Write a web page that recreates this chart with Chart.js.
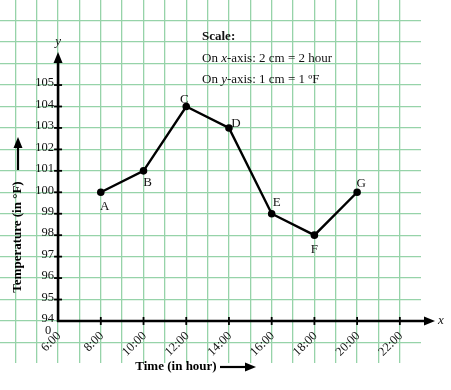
<!DOCTYPE html>
<html>
<head>
<meta charset="utf-8">
<script src="https://cdn.jsdelivr.net/npm/chart.js@4"></script>
<style>
  html, body { margin: 0; padding: 0; background: #fff; }
  #wrap { width: 451px; height: 390px; position: relative; }
</style>
</head>
<body>
<div id="wrap"><canvas id="suhuChart"></canvas></div>
<script>
// data suhu per jam
const hours = [8, 10, 12, 14, 16, 18, 20];
const temps = [100, 101, 104, 103, 99, 98, 100];
const pointNames = ['A', 'B', 'C', 'D', 'E', 'F', 'G'];

// label sumbu
const xTickHours = [6, 8, 10, 12, 14, 16, 18, 20, 22];
const xTickLabels = ['6:00', '8:00', '10:00', '12:00', '14:00', '16:00', '18:00', '20:00', '22:00'];
const yTickValues = [94, 95, 96, 97, 98, 99, 100, 101, 102, 103, 104, 105];

// garis kertas grafik
const gridHours = [4, 5, 6, 7, 8, 9, 10, 11, 12, 13, 14, 15, 16, 17, 18, 19, 20, 21, 22];
const gridTemps = [93, 94, 95, 96, 97, 98, 99, 100, 101, 102, 103, 104, 105, 106, 107, 108];

const serif = '"Liberation Serif", "DejaVu Serif", serif';
const labelOffsets = [[4, 14], [4, 12], [-2, -7], [7, -4], [5, -11], [0, 14], [4, -9]];

function arrowHead(ctx, x, y, dir) {
  ctx.beginPath();
  if (dir === 'up') {
    ctx.moveTo(x, y); ctx.lineTo(x - 4.5, y + 11); ctx.lineTo(x + 4.5, y + 11);
  } else {
    ctx.moveTo(x, y); ctx.lineTo(x - 11, y - 4.5); ctx.lineTo(x - 11, y + 4.5);
  }
  ctx.closePath();
  ctx.fill();
}

const axesPlugin = {
  id: 'axesPlugin',
  beforeDatasetsDraw(chart) {
    const ctx = chart.ctx;
    const xs = chart.scales.x, ys = chart.scales.y;
    const ox = xs.getPixelForValue(6), oy = ys.getPixelForValue(94);
    ctx.save();
    ctx.strokeStyle = '#000';
    ctx.fillStyle = '#000';
    ctx.lineWidth = 2.6;
    // sumbu y
    ctx.beginPath();
    ctx.moveTo(ox, oy + 1);
    ctx.lineTo(ox, 62);
    ctx.stroke();
    arrowHead(ctx, ox, 52, 'up');
    // sumbu x
    ctx.beginPath();
    ctx.moveTo(ox - 1, oy);
    ctx.lineTo(424, oy);
    ctx.stroke();
    arrowHead(ctx, 435, oy, 'right');
    // tick kecil
    ctx.lineWidth = 1.8;
    yTickValues.slice(1).forEach(v => {
      const py = ys.getPixelForValue(v);
      ctx.beginPath(); ctx.moveTo(ox - 4, py); ctx.lineTo(ox + 4, py); ctx.stroke();
    });
    xTickHours.slice(1).forEach(h => {
      const px = xs.getPixelForValue(h);
      ctx.beginPath(); ctx.moveTo(px, oy - 4); ctx.lineTo(px, oy + 4); ctx.stroke();
    });
    ctx.restore();
  },
  afterDatasetsDraw(chart) {
    const ctx = chart.ctx;
    const xs = chart.scales.x, ys = chart.scales.y;
    const ox = xs.getPixelForValue(6), oy = ys.getPixelForValue(94);
    ctx.save();
    ctx.fillStyle = '#111';
    ctx.font = '12.5px ' + serif;
    ctx.textAlign = 'right';
    ctx.textBaseline = 'middle';
    yTickValues.forEach(v => {
      ctx.fillText(String(v), ox - 4, ys.getPixelForValue(v) - 2);
    });
    ctx.textAlign = 'center';
    ctx.fillText('0', ox - 10, oy + 10);

    // label waktu miring
    xTickHours.forEach((h, i) => {
      const px = xs.getPixelForValue(h);
      ctx.save();
      ctx.translate(px + 1, oy + 13);
      ctx.rotate(-Math.PI / 4);
      ctx.textAlign = 'right';
      ctx.textBaseline = 'middle';
      ctx.fillText(xTickLabels[i], 0, 0);
      ctx.restore();
    });

    // nama titik
    ctx.font = '13px ' + serif;
    ctx.textAlign = 'center';
    ctx.textBaseline = 'middle';
    hours.forEach((h, i) => {
      const px = xs.getPixelForValue(h), py = ys.getPixelForValue(temps[i]);
      ctx.fillText(pointNames[i], px + labelOffsets[i][0], py + labelOffsets[i][1]);
    });

    // huruf sumbu
    ctx.font = 'italic 13px ' + serif;
    ctx.fillText('y', ox, 42);
    ctx.fillText('x', 441, oy);

    // skala
    ctx.textAlign = 'left';
    ctx.font = 'bold 13px ' + serif;
    ctx.fillText('Scale:', 202, 37);
    let x0 = 202;
    [['On ', ''], ['x', 'italic '], ['-axis: 2 cm = 2 hour', '']].forEach(p => {
      ctx.font = p[1] + '13px ' + serif;
      ctx.fillText(p[0], x0, 59);
      x0 += ctx.measureText(p[0]).width;
    });
    x0 = 202;
    [['On ', ''], ['y', 'italic '], ['-axis: 1 cm = 1 ºF', '']].forEach(p => {
      ctx.font = p[1] + '13px ' + serif;
      ctx.fillText(p[0], x0, 80);
      x0 += ctx.measureText(p[0]).width;
    });

    // judul sumbu
    ctx.fillStyle = '#000';
    ctx.strokeStyle = '#000';
    ctx.lineWidth = 2.2;
    ctx.font = 'bold 13px ' + serif;
    ctx.textAlign = 'center';
    ctx.fillText('Time (in hour)', 176, 367);
    ctx.beginPath(); ctx.moveTo(220, 367); ctx.lineTo(246, 367); ctx.stroke();
    arrowHead(ctx, 256, 367, 'right');

    ctx.save();
    ctx.translate(18, 237);
    ctx.rotate(-Math.PI / 2);
    ctx.fillText('Temperature (in °F)', 0, 0);
    ctx.restore();
    ctx.beginPath(); ctx.moveTo(18, 170); ctx.lineTo(18, 147); ctx.stroke();
    arrowHead(ctx, 18, 137, 'up');
    ctx.restore();
  }
};

new Chart(document.getElementById('suhuChart'), {
  type: 'line',
  data: {
    datasets: [{
      data: hours.map((h, i) => ({ x: h, y: temps[i] })),
      borderColor: '#000',
      backgroundColor: '#000',
      borderWidth: 2.4,
      pointRadius: 2.6,
      pointBackgroundColor: '#000',
      tension: 0,
      fill: false
    }]
  },
  options: {
    responsive: true,
    maintainAspectRatio: false,
    animation: false,
    layout: { autoPadding: false, padding: { left: 0, top: 0, right: 30, bottom: 27 } },
    plugins: { legend: { display: false }, tooltip: { enabled: false } },
    scales: {
      x: {
        type: 'linear',
        min: 3.282,
        max: 22.99,
        afterBuildTicks: scale => { scale.ticks = gridHours.map(v => ({ value: v })); },
        ticks: { display: false },
        border: { display: false },
        grid: { color: '#96d3a9', lineWidth: 1.3, drawTicks: false }
      },
      y: {
        type: 'linear',
        min: 92.04,
        max: 108.965,
        afterBuildTicks: scale => { scale.ticks = gridTemps.map(v => ({ value: v })); },
        ticks: { display: false },
        border: { display: false },
        grid: { color: '#96d3a9', lineWidth: 1.3, drawTicks: false }
      }
    }
  },
  plugins: [axesPlugin]
});
</script>
</body>
</html>
